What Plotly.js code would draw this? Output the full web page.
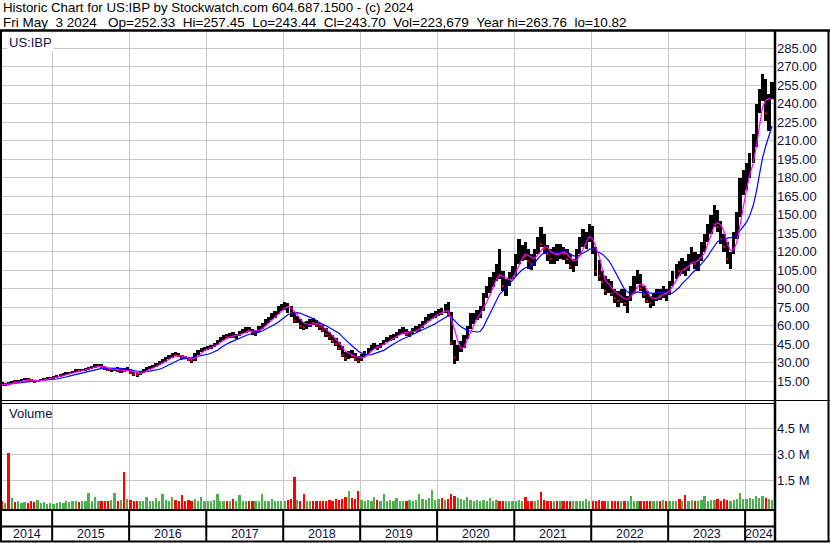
<!DOCTYPE html>
<html><head><meta charset="utf-8">
<script src="https://cdn.plot.ly/plotly-3.0.1.min.js"></script>
<style>html,body{margin:0;padding:0;background:#fff;}#chart{width:830px;height:543px;}</style>
</head><body><div id="chart"></div>
<script>
// ---- DATA (half-month periods, first = May 2014 1st half, last = May 2024 1st half) ----
const priceHigh = [
 14.0,13.0,14.0,15.0,15.5,15.8,16.5,17.5,17.2,16.5,15.5,16.0,17.0,17.8,18.2,18.5,
 19.0,19.5,20.5,21.5,22.0,22.5,23.5,24.5,24.8,25.0,25.5,26.5,27.5,28.5,29.0,28.5,26.8,25.8,25.0,25.5,26.0,24.5,25.5,26.0,
 25.0,22.5,21.5,22.5,24.5,26.0,27.0,28.0,29.5,31.0,33.0,34.5,36.0,37.5,38.5,37.5,36.5,35.5,34.5,33.5,38.0,40.5,42.0,42.5,
 43.5,44.5,46.0,48.0,50.5,52.5,53.0,54.0,54.5,53.5,55.5,57.0,58.5,59.0,57.5,56.5,59.5,62.0,65.0,67.0,70.0,72.0,75.5,77.5,
 79.0,78.5,76.0,71.0,68.0,65.0,62.5,63.5,65.0,66.0,64.5,62.0,60.5,58.0,55.0,52.0,49.5,46.5,43.0,38.5,39.5,40.0,37.5,35.0,
 37.0,39.0,42.0,44.0,45.5,44.5,46.0,48.5,51.0,52.5,53.0,54.5,57.0,58.5,57.0,55.5,58.0,59.5,61.0,63.5,67.0,69.0,70.5,71.5,
 73.5,74.5,77.5,79.0,71.0,48.0,44.0,47.5,52.0,60.0,70.0,70.5,72.5,75.5,86.0,92.0,99.0,103.0,110.0,122.0,104.0,98.0,103.0,108.0,
 118.0,130.0,125.0,128.0,122.0,118.0,122.0,132.0,140.0,134.0,125.0,122.0,124.0,126.0,126.0,124.0,122.0,118.0,114.0,122.0,132.0,138.0,136.0,142.0,
 141.0,124.0,113.0,104.0,100.0,98.0,96.0,90.0,88.0,90.0,90.0,84.0,92.0,100.0,105.0,102.0,92.0,88.0,84.0,86.0,90.0,90.0,92.0,90.0,
 96.0,104.0,110.0,112.0,115.0,112.0,118.0,124.0,120.0,118.0,128.0,134.0,142.0,150.0,158.0,154.0,145.0,134.0,128.0,120.0,136.0,152.0,180.0,186.0,
 192.0,200.0,215.0,240.0,252.0,263.76,260.0,248.0,257.45
];
const priceLow = [
 11.0,10.82,11.5,13.0,13.8,13.5,14.5,15.5,15.5,14.5,13.5,14.0,15.2,16.0,16.2,16.8,
 17.0,17.5,18.3,19.2,19.8,20.5,21.2,22.0,22.3,22.8,23.5,24.2,25.0,25.8,26.5,24.5,24.0,23.0,22.5,23.2,22.0,21.5,22.0,23.5,
 20.5,19.0,18.5,19.5,21.5,23.5,24.5,25.2,26.5,28.0,29.5,30.5,32.5,34.0,35.0,34.5,33.0,32.5,31.0,30.0,31.5,36.5,38.5,39.5,
 40.0,41.0,42.5,44.0,46.5,48.0,49.0,49.5,49.5,49.0,51.5,53.0,54.0,54.5,52.5,51.5,54.5,57.0,59.5,62.0,64.5,66.5,69.0,71.5,
 72.5,70.5,67.0,62.0,62.0,57.5,56.0,57.0,59.0,60.5,58.5,56.5,54.5,51.0,48.0,46.0,43.5,40.0,34.5,31.5,32.5,34.0,31.0,29.5,
 31.5,34.5,37.0,39.5,41.0,40.5,41.5,44.0,46.5,47.5,48.5,49.5,52.0,53.5,51.5,50.5,53.5,55.0,55.5,58.0,61.0,64.0,65.5,66.5,
 67.5,68.5,70.0,68.0,44.0,29.0,31.5,38.5,42.0,49.0,57.0,61.0,64.5,66.0,72.0,82.0,86.5,91.0,96.0,98.0,88.0,84.0,92.0,97.0,
 100.0,110.0,112.0,113.0,106.0,105.0,108.0,118.0,124.0,118.0,112.0,110.0,110.0,112.0,114.0,113.0,110.0,106.0,103.0,108.0,118.0,124.0,122.0,128.0,
 118.0,100.0,96.0,90.0,85.0,86.0,84.0,78.0,75.0,78.0,76.0,70.0,80.0,86.0,94.0,88.0,82.0,78.0,74.0,76.0,80.0,81.0,82.0,80.0,
 85.0,92.0,98.0,100.0,102.0,100.0,104.0,110.0,106.0,104.0,112.0,120.0,128.0,134.0,140.0,136.0,126.0,120.0,110.0,106.0,118.0,130.0,148.0,166.0,
 170.0,180.0,192.0,205.0,232.0,242.0,226.0,218.0,243.44
];
const priceClose = [
 12.0,12.5,12.0,14.5,14.2,15.0,16.0,16.8,16.0,15.0,14.2,15.5,16.5,17.0,17.2,17.8,
 18.2,18.8,19.8,20.8,21.0,22.0,22.8,23.5,23.2,24.5,24.8,25.8,26.5,27.8,28.0,25.5,25.0,23.8,24.2,24.8,22.8,23.8,23.0,24.8,
 21.5,20.5,20.0,22.0,24.0,25.2,26.0,27.2,28.5,30.2,32.0,33.5,35.0,36.5,36.0,35.2,34.0,33.5,32.0,31.5,37.0,39.5,41.0,41.5,
 42.0,43.5,45.0,47.0,49.5,51.0,50.5,52.5,51.0,52.5,54.5,55.5,56.5,56.0,54.0,55.5,58.5,61.0,63.5,65.5,68.5,70.5,73.5,75.5,
 76.5,75.0,70.0,64.0,66.0,59.5,58.5,61.0,63.5,62.0,60.0,58.5,56.0,53.0,50.5,47.5,45.0,41.5,36.0,33.5,38.0,35.5,32.5,31.5,
 35.5,38.0,40.5,42.5,43.0,42.5,45.0,47.5,49.0,50.5,51.0,53.0,55.5,56.0,53.0,54.5,57.0,57.5,59.5,62.5,65.5,67.5,68.5,69.5,
 71.0,70.5,76.0,69.5,46.0,34.0,41.0,44.5,50.0,58.0,66.0,68.0,70.5,73.5,84.0,88.0,95.0,100.0,107.0,101.0,92.0,95.0,100.0,103.0,
 115.0,118.0,122.0,116.0,112.0,110.0,120.0,128.0,126.0,122.0,118.0,114.0,120.0,118.0,122.0,118.0,114.0,108.0,110.0,120.0,128.0,130.0,132.0,138.0,
 122.0,104.0,100.0,95.0,88.0,94.0,86.0,82.0,80.0,86.0,78.0,82.0,88.0,96.0,100.0,90.0,85.0,80.0,78.0,84.0,86.0,84.0,88.0,86.0,
 94.0,100.0,106.0,104.0,108.0,106.0,114.0,116.0,110.0,112.0,124.0,130.0,138.0,146.0,150.0,140.0,130.0,124.0,114.0,116.0,132.0,148.0,172.0,180.0,
 182.0,195.0,208.0,235.0,246.0,258.0,232.0,240.0,243.70
];
const firstOpen = 13.5;
// volume in millions of shares
const volume = [
 0.30,0.20,3.10,0.50,0.25,0.30,0.20,0.25,0.20,0.30,0.25,0.40,0.20,0.25,0.15,0.20,
 0.15,0.20,0.25,0.20,0.30,0.25,0.35,0.30,0.25,0.30,0.35,0.80,0.30,0.55,0.35,0.30,0.35,0.30,0.40,0.80,0.35,0.40,2.00,0.45,
 0.40,0.35,0.30,0.35,0.30,0.55,0.35,0.30,0.50,0.35,0.70,0.40,0.35,0.55,0.40,0.35,0.65,0.35,0.40,0.30,0.45,0.35,0.55,0.30,
 0.35,0.30,0.40,0.75,0.30,0.35,0.30,0.35,0.45,0.30,0.65,0.35,0.30,0.35,0.30,0.30,0.35,0.70,0.35,0.30,0.45,0.35,0.30,0.35,
 0.35,0.40,0.45,1.70,0.40,0.35,0.70,0.35,0.30,0.35,0.30,0.35,0.30,0.35,0.40,0.35,0.45,0.40,0.45,0.55,0.90,0.50,0.45,0.90,
 0.40,0.35,0.40,0.35,0.55,0.40,0.35,0.75,0.35,0.40,0.35,0.50,0.35,0.30,0.35,0.40,0.35,0.40,0.70,0.45,0.40,0.50,0.95,0.40,
 0.45,0.50,0.40,0.45,0.70,0.60,0.50,0.45,0.40,0.55,0.40,0.35,0.40,0.35,0.40,0.35,0.50,0.35,0.40,0.35,0.30,0.35,0.30,0.35,
 0.35,0.40,0.35,0.55,0.35,0.30,0.35,0.40,0.85,0.40,0.35,0.30,0.30,0.35,0.30,0.30,0.35,0.30,0.30,0.35,0.30,0.35,0.45,0.30,
 0.35,0.30,0.40,0.35,0.30,0.35,0.30,0.30,0.35,0.30,0.30,0.35,0.60,0.35,0.30,0.30,0.35,0.30,0.30,0.35,0.30,0.30,0.40,0.30,
 0.35,0.30,0.35,0.45,0.30,0.65,0.35,0.40,0.35,0.30,0.40,0.60,0.35,0.40,0.40,0.45,0.35,0.45,0.40,0.35,0.40,0.45,0.80,0.45,
 0.45,0.50,0.45,0.60,0.50,0.60,0.50,0.45,0.40
];
const years = ['2014','2015','2016','2017','2018','2019','2020','2021','2022','2023','2024'];
const priceTicks = [15,30,45,60,75,90,105,120,135,150,165,180,195,210,225,240,255,270,285];
const volTicks = [1.5,3.0,4.5];
const volTickText = ['1.5 M','3.0 M','4.5 M'];
const titleLine1 = 'Historic Chart for US:IBP by Stockwatch.com 604.687.1500 - (c) 2024';
const titleLine2 = 'Fri May\u00a0\u00a03 2024\u00a0\u00a0\u00a0Op=252.33\u00a0\u00a0Hi=257.45\u00a0\u00a0Lo=243.44\u00a0\u00a0Cl=243.70\u00a0\u00a0Vol=223,679\u00a0\u00a0Year hi=263.76\u00a0\u00a0lo=10.82';
const symbol = 'US:IBP';

// ---- helpers ----
function periodDate(i){
  const m = 4 + Math.floor(i/2);
  const y = 2014 + Math.floor(m/12);
  const mm = (m%12)+1;
  const d = (i%2===0) ? 8 : 23;
  return y + '-' + String(mm).padStart(2,'0') + '-' + String(d).padStart(2,'0');
}
function sma(arr,n){
  return arr.map((_,i)=>{const s=Math.max(0,i-n+1);let t=0;for(let k=s;k<=i;k++)t+=arr[k];return t/(i-s+1);});
}
const N = priceClose.length;
const dates = Array.from({length:N},(_,i)=>periodDate(i));
const DAY = 86400000;
const rangeStart = '2014-05-08', rangeEnd = '2024-05-17';

const W=830,H=543,L=2,R=56,T=32,B=33;
const PW=W-L-R, PH=H-T-B;
const X = p => (p-L)/PW;
const Y = p => (H-B-p)/PH;

const FONT = 'Liberation Sans, Arial, sans-serif';
const TXT = '#101040';
const VOL_MIN = -0.2;

const upColor='#4cb04c', dnColor='#ff0000';
const isUp = priceClose.map((c,i)=> c >= (i===0?firstOpen:priceClose[i-1]));
const volColors = isUp.map(u=> u ? upColor : dnColor);
const downIdx = isUp.map((u,i)=>u?-1:i).filter(i=>i>=0);

const traces = [
  {type:'bar', x:dates, base:priceLow, y:priceHigh.map((h,i)=>h-priceLow[i]),
   width:15.3*DAY, marker:{color:'#000', line:{width:0}}, xaxis:'x', yaxis:'y', hoverinfo:'skip'},
  {type:'scatter', mode:'markers', x:downIdx.map(i=>dates[i]), y:downIdx.map(i=>priceClose[i]),
   marker:{symbol:'square', size:2, color:'#ff0000', line:{width:0}}, xaxis:'x', yaxis:'y'},
  {type:'scatter', mode:'lines', x:dates, y:sma(priceClose,10), line:{color:'#0000ff', width:1.2}, xaxis:'x', yaxis:'y'},
  {type:'scatter', mode:'lines', x:dates, y:sma(priceClose,4), line:{color:'#ff00ff', width:1.2}, xaxis:'x', yaxis:'y'},
  {type:'bar', x:dates, base:VOL_MIN, y:volume.map(v=>v-VOL_MIN), width:11*DAY,
   marker:{color:volColors, line:{width:0}}, xaxis:'x', yaxis:'y2', hoverinfo:'skip'}
];

const yearStarts = years.slice(1).map(y=>y+'-01-01');
const shapes = [];
const blk = (x0,y0,x1,y1,w)=>shapes.push({type:'line',xref:'paper',yref:'paper',x0:X(x0),y0:Y(y0),x1:X(x1),y1:Y(y1),line:{color:'#000',width:w}});
blk(0,30.5,830,30.5,2.5);      // top frame
blk(1,30.5,1,542,2);            // left frame
blk(828.5,30.5,828.5,542,2);    // right frame
blk(0,541.5,830,541.5,2);       // bottom frame
blk(775,30.5,775,542,2.5);      // plot / axis separator
blk(0,400.5,830,400.5,1.2);     // price bottom
blk(0,403.5,775,403.5,1.2);     // volume top
blk(0,510,775,510,2);           // volume bottom
blk(0,526.5,775,526.5,2);       // strip separator
yearStarts.forEach(d=>shapes.push({type:'line',xref:'x',yref:'paper',x0:d,x1:d,y0:Y(510),y1:Y(541.5),line:{color:'#000',width:2}}));

const bounds = [rangeStart].concat(yearStarts).concat([rangeEnd]);
const annotations = [];
years.forEach((yr,i)=>{
  const a = new Date(bounds[i]).getTime(), b = new Date(bounds[i+1]).getTime();
  annotations.push({xref:'x',yref:'paper',x:new Date((a+b)/2).toISOString().slice(0,10),y:Y(534),text:yr,showarrow:false,
    xanchor:'center',yanchor:'middle',font:{family:FONT,size:12.5,color:TXT}});
});
annotations.push({xref:'paper',yref:'paper',x:X(2),y:Y(7.5),text:titleLine1,showarrow:false,xanchor:'left',yanchor:'middle',borderpad:0,font:{family:FONT,size:13.3,color:'#000'}});
annotations.push({xref:'paper',yref:'paper',x:X(2),y:Y(22.5),text:titleLine2,showarrow:false,xanchor:'left',yanchor:'middle',borderpad:0,font:{family:FONT,size:13.5,color:'#000'}});
annotations.push({xref:'paper',yref:'paper',x:X(7),y:Y(42),text:symbol,showarrow:false,xanchor:'left',yanchor:'middle',bgcolor:'#fff',font:{family:FONT,size:13,color:TXT}});
annotations.push({xref:'paper',yref:'paper',x:X(7),y:Y(413),text:'Volume',showarrow:false,xanchor:'left',yanchor:'middle',font:{family:FONT,size:13,color:TXT}});

const layout = {
  width:W, height:H, margin:{l:L,r:R,t:T,b:B,pad:0},
  paper_bgcolor:'#fff', plot_bgcolor:'#fff', showlegend:false, bargap:0,
  xaxis:{type:'date', range:[rangeStart,rangeEnd], anchor:'y2', tickvals:yearStarts, showticklabels:false, ticks:'',
    showgrid:true, gridcolor:'#c8c8c8', gridwidth:1, zeroline:false, showline:false},
  yaxis:{domain:[Y(401),1], anchor:'x', side:'right', range:[-1.2,298], tickvals:priceTicks,
    ticktext:priceTicks.map(v=>v.toFixed(2)), ticks:'', ticklabelstandoff:2, showgrid:true, gridcolor:'#c8c8c8', gridwidth:1,
    zeroline:false, showline:false, tickfont:{family:FONT,size:13,color:TXT}},
  yaxis2:{domain:[0,Y(403)], anchor:'x', side:'right', range:[VOL_MIN,6.0], tickvals:volTicks, ticktext:volTickText,
    ticks:'', ticklabelstandoff:2, showgrid:true, gridcolor:'#c8c8c8', gridwidth:1, zeroline:false, showline:false,
    tickfont:{family:FONT,size:13,color:TXT}},
  shapes:shapes, annotations:annotations
};
Plotly.newPlot('chart', traces, layout, {staticPlot:true, displayModeBar:false});
</script></body></html>
